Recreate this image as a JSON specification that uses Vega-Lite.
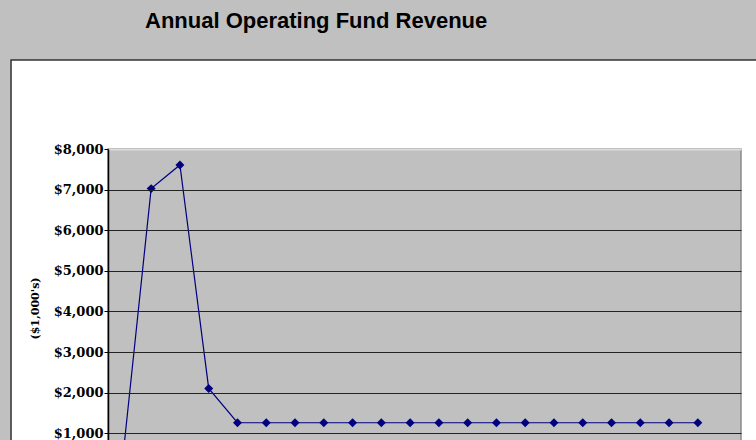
{
  "$schema": "https://vega.github.io/schema/vega-lite/v6.json",
  "width": 633,
  "height": 291,
  "autosize": {"type": "none"},
  "padding": {"left": 108, "top": 149, "right": 15, "bottom": 0},
  "background": "#C0C0C0",
  "config": {"view": {"stroke": null}},
  "title": {
    "text": "Annual Operating Fund Revenue",
    "anchor": "start",
    "frame": "group",
    "dx": 37,
    "offset": 26,
    "font": "Liberation Sans",
    "fontSize": 22,
    "fontWeight": "bold",
    "color": "#000000"
  },
  "data": {
    "values": [
      {"Year": 2008, "Revenue": 300},
      {"Year": 2009, "Revenue": 7025},
      {"Year": 2010, "Revenue": 7607},
      {"Year": 2011, "Revenue": 2105},
      {"Year": 2012, "Revenue": 1260},
      {"Year": 2013, "Revenue": 1260},
      {"Year": 2014, "Revenue": 1260},
      {"Year": 2015, "Revenue": 1260},
      {"Year": 2016, "Revenue": 1260},
      {"Year": 2017, "Revenue": 1260},
      {"Year": 2018, "Revenue": 1260},
      {"Year": 2019, "Revenue": 1260},
      {"Year": 2020, "Revenue": 1260},
      {"Year": 2021, "Revenue": 1260},
      {"Year": 2022, "Revenue": 1260},
      {"Year": 2023, "Revenue": 1260},
      {"Year": 2024, "Revenue": 1260},
      {"Year": 2025, "Revenue": 1260},
      {"Year": 2026, "Revenue": 1260},
      {"Year": 2027, "Revenue": 1260},
      {"Year": 2028, "Revenue": 1260}
    ]
  },
  "resolve": {"axis": {"x": "independent", "y": "independent"}},
  "layer": [
    {
      "data": {"values": [{}]},
      "mark": {"type": "rect", "fill": "#FFFFFF", "stroke": "#333333", "strokeWidth": 1.5},
      "encoding": {
        "x": {"datum": 2004.13, "type": "quantitative", "scale": {"domain": [2007.5, 2029.5], "nice": false, "zero": false}, "axis": null},
        "x2": {"datum": 2034},
        "y": {"datum": 10191, "type": "quantitative", "scale": {"domain": [835, 8000], "nice": false, "zero": false}, "axis": null},
        "y2": {"datum": -5000}
      }
    },
    {
      "data": {"values": [{}]},
      "mark": {"type": "rect", "fill": "#C0C0C0", "stroke": "#8A8A8A", "strokeWidth": 1.5},
      "encoding": {
        "x": {"datum": 2007.5, "type": "quantitative", "scale": {"domain": [2007.5, 2029.5], "nice": false, "zero": false}, "axis": null},
        "x2": {"datum": 2029.5},
        "y": {"datum": 8000, "type": "quantitative", "scale": {"domain": [835, 8000], "nice": false, "zero": false}, "axis": null},
        "y2": {"datum": 0}
      }
    },
    {
      "mark": {
        "type": "line",
        "color": "#000080",
        "strokeWidth": 1.2,
        "point": {"shape": "diamond", "size": 80, "filled": true, "color": "#000080"}
      },
      "encoding": {
        "x": {"field": "Year", "type": "quantitative", "scale": {"domain": [2007.5, 2029.5], "nice": false, "zero": false}, "axis": null},
        "y": {
          "field": "Revenue",
          "type": "quantitative",
          "scale": {"domain": [835, 8000], "nice": false, "zero": false},
          "axis": {
            "values": [1000, 2000, 3000, 4000, 5000, 6000, 7000, 8000],
            "format": "$,.0f",
            "zindex": 1,
            "labelFont": "DejaVu Serif",
            "labelFontWeight": "bold",
            "labelFontSize": 13,
            "labelColor": "#000000",
            "labelPadding": 1,
            "tickSize": 4,
            "tickColor": "#000000",
            "tickWidth": 1,
            "domainColor": "#000000",
            "domainWidth": 1.5,
            "grid": true,
            "gridColor": {"condition": {"test": "datum.value === 8000", "value": "#DCDCDC"}, "value": "#222222"},
            "gridWidth": {"condition": {"test": "datum.value === 8000", "value": 2}, "value": 1.2},
            "gridOpacity": 1,
            "title": "($1,000's)",
            "titleFont": "DejaVu Serif",
            "titleFontWeight": "bold",
            "titleFontSize": 11,
            "titleColor": "#000000",
            "titleAngle": 270,
            "titleAlign": "center",
            "titleBaseline": "middle",
            "titleX": -73,
            "titleY": 159
          }
        }
      }
    }
  ]
}
